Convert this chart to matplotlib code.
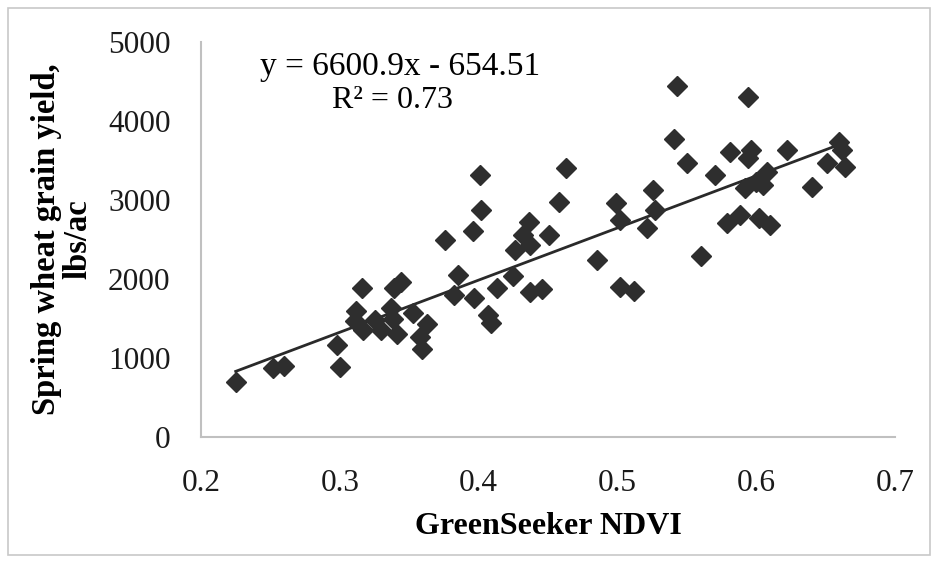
import matplotlib
matplotlib.use("Agg")
import matplotlib.pyplot as plt
from matplotlib.patches import Rectangle

# GreenSeeker NDVI (x) and spring wheat grain yield, lbs/ac (y)
ndvi = [0.225, 0.252, 0.260, 0.298, 0.300,
        0.316, 0.339, 0.344, 0.312, 0.311, 0.317, 0.325, 0.330, 0.337, 0.338, 0.341,
        0.353, 0.363, 0.358, 0.359,
        0.376, 0.396, 0.401, 0.402, 0.385, 0.382, 0.397, 0.407, 0.409, 0.413, 0.425,
        0.436, 0.432, 0.437, 0.426, 0.451, 0.437, 0.446, 0.458, 0.463,
        0.485, 0.499, 0.502, 0.502, 0.512, 0.521, 0.526, 0.527,
        0.543, 0.541, 0.550, 0.560, 0.570, 0.581, 0.579, 0.588, 0.594, 0.596, 0.594,
        0.592, 0.600, 0.605, 0.608, 0.602, 0.610, 0.622, 0.640, 0.651, 0.660, 0.662, 0.664]
yield_lbs = [700, 872, 901, 1160, 890,
             1882, 1880, 1960, 1590, 1465, 1350, 1480, 1350, 1630, 1490, 1310,
             1566, 1430, 1270, 1120,
             2494, 2608, 3316, 2873, 2051, 1797, 1756, 1544, 1443, 1882, 2038,
             2725, 2557, 2430, 2367, 2557, 1839, 1870, 2978, 3401,
             2241, 2958, 2747, 1903, 1852, 2642, 3127, 2873,
             4447, 3772, 3465, 2291, 3316, 3611, 2705, 2810, 4308, 3633, 3528,
             3148, 3230, 3190, 3358, 2768, 2684, 3633, 3168, 3465, 3738, 3633, 3422]

slope = 6600.9
intercept = -654.51
r_squared = 0.73

x_ticks = [0.2, 0.3, 0.4, 0.5, 0.6, 0.7]
x_tick_labels = ["0.2", "0.3", "0.4", "0.5", "0.6", "0.7"]
y_ticks = [0, 1000, 2000, 3000, 4000, 5000]

plt.rcParams['font.family'] = ['Liberation Serif', 'DejaVu Serif']

W, H = 936, 562
fig = plt.figure(figsize=(W/100, H/100), dpi=100)
fig.patches.append(Rectangle((0.009, 0.012), 0.985, 0.974, transform=fig.transFigure,
                             fill=False, edgecolor='#c8c8c8', linewidth=1.2))
ax = fig.add_axes([201/W, 1-437/H, (895-201)/W, (437-42)/H])

xmin, xmax = min(ndvi), max(ndvi)
ax.plot([xmin, xmax], [slope*xmin + intercept, slope*xmax + intercept],
        color='#2a2a2a', linewidth=2.0, zorder=2)
ax.plot(ndvi, yield_lbs, linestyle='none', marker='D', markersize=10.5,
        markerfacecolor='#2e2e2e', markeredgecolor='#2e2e2e', zorder=3)

ax.set_xlim(0.2, 0.7)
ax.set_ylim(0, 5000)
ax.set_xticks(x_ticks)
ax.set_xticklabels(x_tick_labels)
ax.set_yticks(y_ticks)
ax.tick_params(axis='both', length=0, labelsize=22.5, colors='#1a1a1a')
ax.tick_params(axis='x', pad=23)
ax.tick_params(axis='y', pad=22)
for s in ['top', 'right']:
    ax.spines[s].set_visible(False)
for s in ['left', 'bottom']:
    ax.spines[s].set_color('#c0c0c0')
    ax.spines[s].set_linewidth(1.5)

ax.set_xlabel("GreenSeeker NDVI", fontsize=23, fontweight='bold', labelpad=10)
ax.set_ylabel("Spring wheat grain yield,\nlbs/ac", fontsize=23.5, fontweight='bold',
              linespacing=1.0)
ax.yaxis.set_label_coords(-(201-93)/(895-201), 0.5)

fig.text(400/W, 1-67/H, f"y = {slope}x - {abs(intercept)}", fontsize=24,
         ha='center', va='center')
fig.text(393/W, 1-101/H, f"R² = {r_squared}", fontsize=23,
         ha='center', va='center')

fig.savefig("out.png", dpi=100)
